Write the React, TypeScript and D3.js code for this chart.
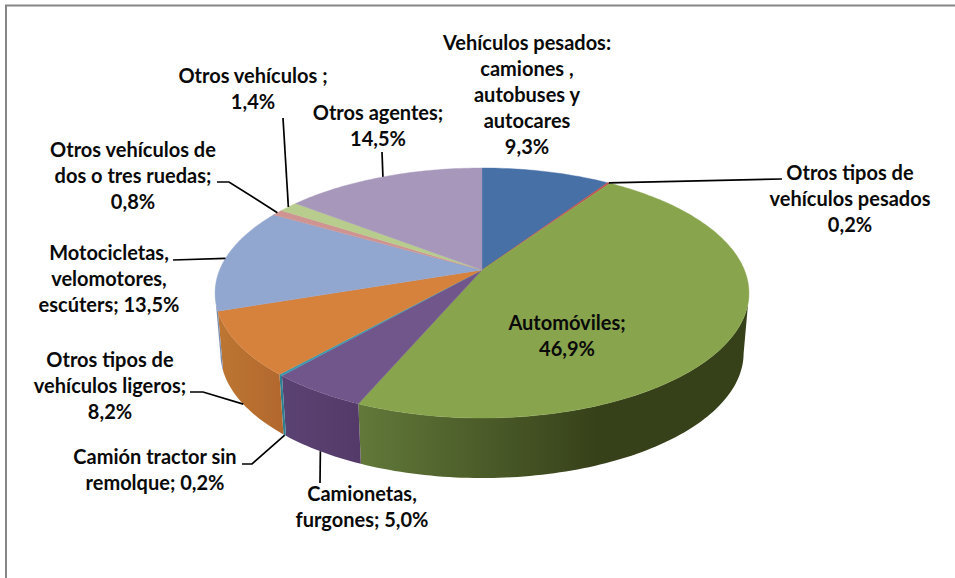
import React from "react";
import * as d3 from "d3";

const categories = [
  "Vehículos pesados", "Otros tipos de vehículos pesados", "Automóviles", "Camionetas, furgones",
  "Camión tractor sin remolque", "Otros tipos de vehículos ligeros", "Motocicletas, velomotores, escúters",
  "Otros vehículos de dos o tres ruedas", "Otros vehículos", "Otros agentes",
];
const values = [9.3, 0.2, 46.9, 5.0, 0.2, 8.2, 13.5, 0.8, 1.4, 14.5];
const topColors = ["#4670a6", "#c0504d", "#88a44c", "#71568c", "#3c98ad", "#d6813c", "#92a7cf", "#cf9492", "#b8cd8d", "#a798bb"];
const sideLeft = ["#3a5d8a", "#a04340", "#62793a", "#5a4273", "#2f7f92", "#bd7632", "#7a8cad", "#ad7b79", "#99ab76", "#8b7f9c"];
const sideRight = ["#3a5d8a", "#a04340", "#364019", "#543a68", "#2f7f92", "#b3692e", "#7a8cad", "#ad7b79", "#99ab76", "#8b7f9c"];
const labelLines = [
  ["Vehículos pesados:", "camiones ,", "autobuses y", "autocares", "9,3%"],
  ["Otros tipos de", "vehículos pesados", "0,2%"],
  ["Automóviles;", "46,9%"],
  ["Camionetas,", "furgones; 5,0%"],
  ["Camión tractor sin", "remolque; 0,2%"],
  ["Otros tipos de", "vehículos ligeros;", "8,2%"],
  ["Motocicletas,", "velomotores,", "escúters; 13,5%"],
  ["Otros vehículos de", "dos o tres ruedas;", "0,8%"],
  ["Otros vehículos ;", "1,4%"],
  ["Otros agentes;", "14,5%"],
];
const labelX = [527, 850, 567, 362, 155, 110, 109, 133, 253, 378];
const labelY = [43, 173, 323, 494, 457, 360, 253, 150, 76, 113];
// Leader elbows (from label to rim); the rim end is computed from the slice.
const leaderElbows: ([number, number][] | null)[] = [
  null,
  [[782, 179]],
  null,
  [[320, 483]],
  [[242, 464], [252, 464]],
  [[190, 392], [203, 392]],
  [[173, 260]],
  [[217, 182], [229, 182]],
  [[283, 118]],
  [[382, 152]],
];
const leaderOnBottom = [false, false, false, true, true, true, false, false, false, false];

const W = 955, H = 578;
const cx = 482, cy = 270;
const radiusX = 262.4, radiusY = 120.8, persp = 0.184;
const depth = 60, bottomScale = 0.98;

// Projects a rim/disk point: angle clockwise from 12 o'clock, r in 0..1
function project(theta: number, r = 1, bottom = false): [number, number] {
  const u = r * Math.sin(theta), v = r * Math.cos(theta);
  const w = 1 + persp * v;
  const sx = bottom ? bottomScale : 1;
  return [cx + (sx * radiusX * u) / w, cy - (radiusY * v) / w + (bottom ? depth : 0)];
}

const pieGen = d3.pie<number>().sort(null).value((d) => d);
const arcs = pieGen(values);
const line = d3.line();

function rimPoints(a0: number, a1: number, bottom = false): [number, number][] {
  const n = Math.max(2, Math.ceil((a1 - a0) / 0.02));
  return d3.range(n + 1).map((i) => project(a0 + ((a1 - a0) * i) / n, 1, bottom));
}

const sideStart = 1.76, sideEnd = 4.52; // silhouette angles of the extruded side

export default function App() {
  return (
    <svg width={W} height={H} viewBox={`0 0 ${W} ${H}`} style={{ position: "absolute", left: 0, top: 0, background: "#fff" }}>
      <defs>
        {arcs.map((a, i) => (
          <linearGradient key={i} id={`side${i}`} gradientUnits="userSpaceOnUse"
            x1={project(Math.min(a.endAngle, sideEnd))[0]} y1={0}
            x2={i === 2 ? 600 : project(Math.max(a.startAngle, sideStart))[0]} y2={0}>
            <stop offset="0" stopColor={sideLeft[i]} />
            <stop offset="1" stopColor={sideRight[i]} />
          </linearGradient>
        ))}
      </defs>
      <path d={`M6 578V5.5H955`} fill="none" stroke="#868686" strokeWidth={2} />
      {arcs.map((a, i) => {
        const s = Math.max(a.startAngle, sideStart), e = Math.min(a.endAngle, sideEnd);
        if (e <= s) return null;
        const pts = [...rimPoints(s, e), ...rimPoints(s, e, true).reverse()];
        return <path key={i} d={line(pts) + "Z"} fill={`url(#side${i})`} />;
      })}
      {arcs.map((a, i) => {
        const pts: [number, number][] = [[cx, cy], ...rimPoints(a.startAngle, a.endAngle)];
        return <path key={i} d={line(pts) + "Z"} fill={topColors[i]} stroke={topColors[i]} strokeWidth={0.4} />;
      })}
      {arcs.map((a, i) => {
        const el = leaderElbows[i];
        if (!el) return null;
        const mid = (a.startAngle + a.endAngle) / 2;
        const end = project(mid, 1, leaderOnBottom[i]);
        return <path key={i} d={line([...el, end]) ?? ""} fill="none" stroke="#000" strokeWidth={1.7} />;
      })}
      <g fontFamily="Lato" fontWeight={700} fontSize={20} textAnchor="middle" fill="#0a0a0a">
        {labelLines.map((ls, i) =>
          ls.map((t, j) => (
            <text key={`${i}-${j}`} x={labelX[i]} y={labelY[i] + j * 26} dy="0.35em">{t}</text>
          ))
        )}
      </g>
      <title>{categories.join(", ")}</title>
    </svg>
  );
}
